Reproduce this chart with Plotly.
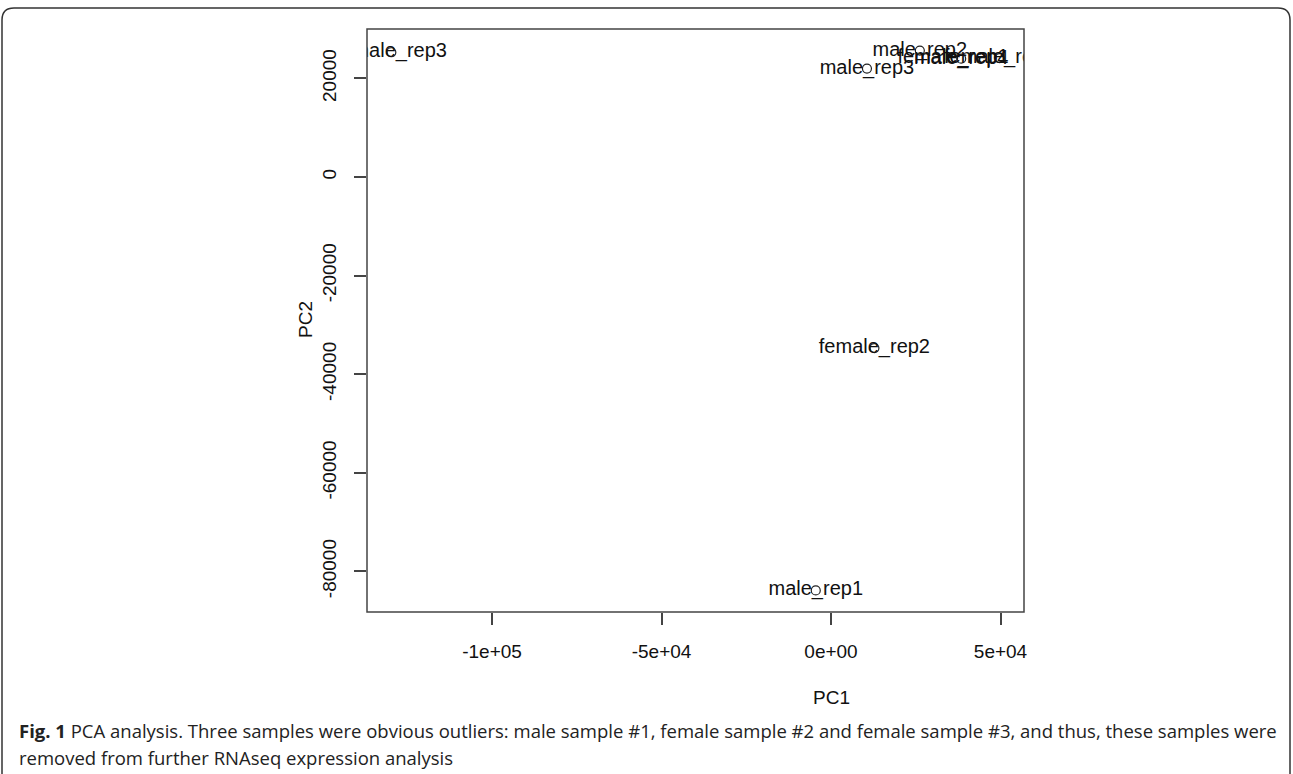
import plotly.graph_objects as go

# ---- data ----
samples = ["female_rep3", "male_rep1", "female_rep2", "male_rep3", "male_rep2",
           "female_rep1", "male_rep4", "female_rep4"]
pc1 = [-129700, -4500, 12800, 10600, 26200, 36000, 38400, 49750]
pc2 = [25300, -83850, -34700, 22000, 25640, 24100, 24000, 24100]

x_tickvals = [-100000, -50000, 0, 50000]
x_ticktext = ["-1e+05", "-5e+04", "0e+00", "5e+04"]
y_tickvals = [20000, 0, -20000, -40000, -60000, -80000]
y_ticktext = ["20000", "0", "-20000", "-40000", "-60000", "-80000"]

x_title = "PC1"
y_title = "PC2"
caption_line1 = ("<b>Fig. 1</b> PCA analysis. Three samples were obvious outliers: male sample #1, "
                 "female sample #2 and female sample #3, and thus, these samples were")
caption_line2 = "removed from further RNAseq expression analysis"

# ---- layout geometry ----
W, H = 1293, 774
L, R, T, B = 367, 269, 29, 162
PW, PH = W - L - R, H - T - B


def px(x):
    return (x - L) / PW


def py(y):
    return (H - B - y) / PH


def padded(vals, frac=0.04):
    lo, hi = min(vals), max(vals)
    d = (hi - lo) * frac
    return [lo - d, hi + d]


FONT = "Liberation Sans"

fig = go.Figure()
fig.add_trace(go.Scatter(
    x=pc1, y=pc2, mode="markers+text", text=samples,
    textposition="middle center",
    textfont=dict(family=FONT, size=20, color="#111"),
    marker=dict(symbol="circle-open", size=9, color="#222", line=dict(width=1.2)),
    cliponaxis=True, showlegend=False, hoverinfo="skip",
))

fig.update_layout(
    width=W, height=H,
    margin=dict(l=L, r=R, t=T, b=B),
    paper_bgcolor="white", plot_bgcolor="white",
    font=dict(family=FONT, size=19, color="#111"),
    xaxis=dict(range=padded(pc1), tickvals=x_tickvals, ticktext=x_ticktext,
               ticks="outside", ticklen=12, tickwidth=1.5, tickcolor="#444",
               showgrid=False, zeroline=False, showline=False,
               ticklabelstandoff=10, tickfont=dict(family=FONT, size=19)),
    yaxis=dict(range=padded(pc2), tickvals=y_tickvals, ticktext=y_ticktext,
               ticks="outside", ticklen=12, tickwidth=1.5, tickcolor="#444",
               showgrid=False, zeroline=False, showline=False, tickangle=-90,
               ticklabelstandoff=10, tickfont=dict(family=FONT, size=19)),
)

# plot box
fig.add_shape(type="rect", xref="paper", yref="paper", x0=0, x1=1, y0=0, y1=1,
              line=dict(color="#444", width=1.5), fillcolor="rgba(0,0,0,0)")

# outer rounded border of the figure panel
x0, x1, y0, y1, rr = 2, 1290, 8, 800, 12
path = (f"M {px(x0)},{py(y1)} L {px(x0)},{py(y0 + rr)} "
        f"Q {px(x0)},{py(y0)} {px(x0 + rr)},{py(y0)} "
        f"L {px(x1 - rr)},{py(y0)} Q {px(x1)},{py(y0)} {px(x1)},{py(y0 + rr)} "
        f"L {px(x1)},{py(y1)}")
fig.add_shape(type="path", xref="paper", yref="paper", path=path,
              line=dict(color="#333", width=1.5))

# axis titles
fig.add_annotation(text=x_title, xref="paper", yref="paper", x=px(831), y=py(697),
                   xanchor="center", yanchor="middle", showarrow=False,
                   font=dict(family=FONT, size=19, color="#111"))
fig.add_annotation(text=y_title, xref="paper", yref="paper", x=px(305), y=py(320),
                   xanchor="center", yanchor="middle", showarrow=False, textangle=-90,
                   font=dict(family=FONT, size=19, color="#111"))

# caption
CAP = "Open Sans"
fig.add_annotation(text=caption_line1, xref="paper", yref="paper", x=px(17), y=py(731),
                   xanchor="left", yanchor="middle", showarrow=False,
                   font=dict(family=CAP, size=18.5, color="#222"))
fig.add_annotation(text=caption_line2, xref="paper", yref="paper", x=px(17), y=py(757),
                   xanchor="left", yanchor="middle", showarrow=False,
                   font=dict(family=CAP, size=18.5, color="#222"))

fig.write_html("out.html")
